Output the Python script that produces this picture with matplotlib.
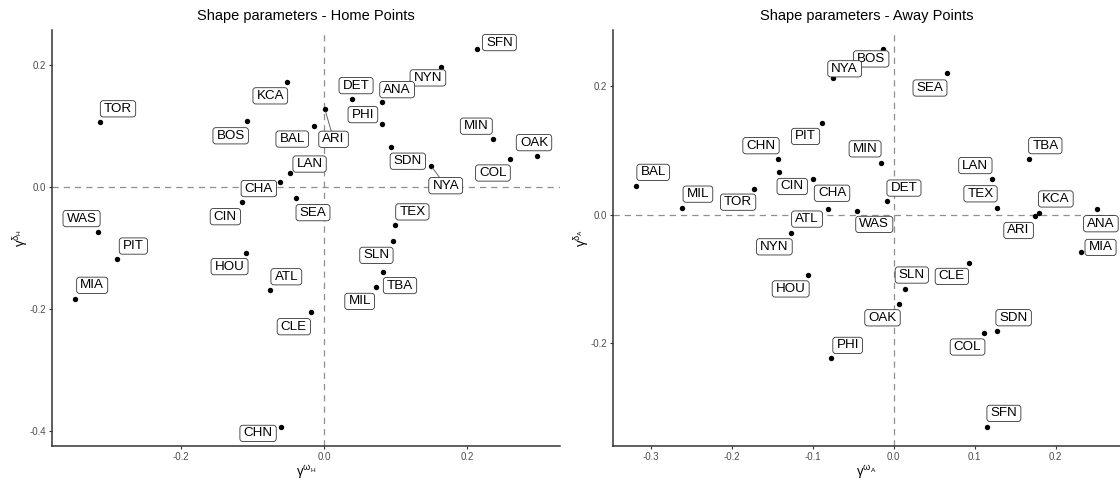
import matplotlib
matplotlib.use("Agg")
import matplotlib.pyplot as plt
from matplotlib.ticker import FormatStrFormatter
from matplotlib.patches import BoxStyle

plt.rcParams['font.family'] = ['Liberation Sans', 'DejaVu Sans']
plt.rcParams['axes.unicode_minus'] = False
plt.rcParams['mathtext.fontset'] = 'custom'
plt.rcParams['mathtext.rm'] = 'Liberation Sans'
plt.rcParams['mathtext.it'] = 'Liberation Sans'
plt.rcParams['mathtext.default'] = 'regular'

# ---------------- data ----------------
home_teams = ["SFN", "NYN", "KCA", "DET", "ANA", "TOR", "BOS", "PHI", "BAL", "ARI",
              "MIN", "SDN", "OAK", "COL", "NYA", "LAN", "CHA", "CIN", "SEA", "TEX",
              "WAS", "SLN", "PIT", "HOU", "TBA", "MIL", "ATL", "MIA", "CLE", "CHN"]
home_omega = [0.214, 0.164, -0.052, 0.040, 0.082, -0.313, -0.108, 0.082, -0.0135, 0.0015,
              0.237, 0.094, 0.298, 0.260, 0.150, -0.047, -0.061, -0.114, -0.039, 0.100,
              -0.316, 0.097, -0.290, -0.109, 0.083, 0.073, -0.076, -0.348, -0.0185, -0.060]
home_delta = [0.227, 0.198, 0.173, 0.145, 0.140, 0.107, 0.108, 0.104, 0.101, 0.128,
              0.079, 0.067, 0.052, 0.047, 0.035, 0.023, 0.009, -0.024, -0.018, -0.062,
              -0.073, -0.0885, -0.118, -0.107, -0.138, -0.164, -0.169, -0.183, -0.205, -0.393]

away_teams = ["BOS", "NYA", "SEA", "PIT", "CHN", "MIN", "TBA", "LAN", "BAL", "CIN",
              "CHA", "DET", "MIL", "TOR", "TEX", "KCA", "ATL", "WAS", "ARI", "ANA",
              "NYN", "MIA", "CLE", "HOU", "SLN", "OAK", "SDN", "COL", "PHI", "SFN"]
away_omega = [-0.0128, -0.075, 0.066, -0.088, -0.143, -0.015, 0.167, 0.122, -0.318, -0.142,
              -0.099, -0.008, -0.261, -0.173, 0.128, 0.180, -0.081, -0.045, 0.175, 0.251,
              -0.127, 0.2316, 0.093, -0.106, 0.0137, 0.007, 0.127, 0.112, -0.077, 0.115]
away_delta = [0.258, 0.213, 0.220, 0.143, 0.087, 0.081, 0.086, 0.055, 0.045, 0.066,
              0.055, 0.021, 0.010, 0.040, 0.011, 0.003, 0.009, 0.006, -0.003, 0.008,
              -0.028, -0.059, -0.075, -0.094, -0.116, -0.139, -0.182, -0.184, -0.224, -0.331]

# label placement (offsets in pixels from each point, image y downward)
home_label_offsets = [(22.5, -6.3), (-13.2, 11.3), (-16.4, 14), (3.6, -13.3), (14.6, -12.3),
                      (17.9, -13.3), (-16, 14.3), (-19.6, -9.3), (-22, 13.3), (8.6, 30),
                      (-17, -13), (16.8, 14.7), (-2.9, -13), (-16.8, 14.3), (14.6, 19.7),
                      (19.3, -9.3), (-21.4, 6.7), (-17, 14.7), (17, 14.3), (17, -13.3),
                      (-16.4, -13.3), (-16.8, 14), (16.8, -13.3), (-16.4, 14), (16.8, 14),
                      (-16.4, 14), (16.8, -13.7), (17.1, -13.7), (-16.8, 14.3), (-22.9, 6.3)]
home_segments = ["ARI", "NYA"]
away_label_offsets = [(-12.1, 10), (11.8, -9), (-17.1, 14.7), (-16.8, 13.7), (-16.8, -13),
                      (-16.4, -13.7), (16.4, -13.7), (-17.1, -13.7), (17.1, -13.3), (13.6, 14.3),
                      (18.6, 14), (16.8, -13), (15.7, -14), (-15.4, 13.3), (-16.8, -13.7),
                      (16.4, -13.7), (-21, 10.3), (17.1, 13.7), (-16.8, 14), (3.9, 14.3),
                      (-16.4, 14.3), (19.3, -5), (-17.1, 13.7), (-17.1, 14), (7.1, -14),
                      (-16.8, 14), (17.1, -13.7), (-16.8, 14.3), (16.4, -13), (17.1, -13.7)]
away_segments = []

home_xticks = [-0.2, 0.0, 0.2]
home_yticks = [-0.4, -0.2, 0.0, 0.2]
away_xticks = [-0.3, -0.2, -0.1, 0.0, 0.1, 0.2]
away_yticks = [-0.2, 0.0, 0.2]

W, H = 1120, 480
fig = plt.figure(figsize=(W / 100, H / 100), dpi=100)

_round = BoxStyle.Round(pad=0.0, rounding_size=0.22)


def label_box(x0, y0, width, height, mutation_size):
    px = 0.27 * mutation_size
    py = 0.16 * mutation_size
    return _round(x0 - px, y0 - py, width + 2 * px, height + 2 * py, mutation_size)


def px_axes(left, top, right, bottom):
    return fig.add_axes([left / W, 1 - bottom / H, (right - left) / W, (bottom - top) / H])


def expand(vals, frac=0.05):
    lo, hi = min(vals), max(vals)
    r = hi - lo
    return lo - frac * r, hi + frac * r


def panel(ax, title, teams, xs, ys, offsets, segs, xticks, yticks, xlab, ylab):
    ax.set_xlim(*expand(xs))
    ax.set_ylim(*expand(ys))
    ax.axhline(0, color='#8f8f8f', lw=0.9, ls=(0, (5, 4)), zorder=1)
    ax.axvline(0, color='#8f8f8f', lw=0.9, ls=(0, (5, 4)), zorder=1)
    ax.scatter(xs, ys, s=15, color='black', zorder=3, linewidths=0)
    for t, x, y, (dx, dy) in zip(teams, xs, ys, offsets):
        arrow = None
        if t in segs:
            arrow = dict(arrowstyle='-', color='#666666', lw=0.7, shrinkA=0, shrinkB=2)
        ax.annotate(t, (x, y), xytext=(dx, -dy), textcoords='offset pixels',
                    ha='center', va='center', fontsize=9.6, color='black',
                    bbox=dict(boxstyle=label_box, fc='white', ec='#333333', lw=0.6),
                    arrowprops=arrow, zorder=4)
    ax.set_xticks(xticks)
    ax.set_yticks(yticks)
    ax.xaxis.set_major_formatter(FormatStrFormatter('%.1f'))
    ax.yaxis.set_major_formatter(FormatStrFormatter('%.1f'))
    for s in ['top', 'right']:
        ax.spines[s].set_visible(False)
    for s in ['left', 'bottom']:
        ax.spines[s].set_color('#333333')
        ax.spines[s].set_linewidth(1.1)
    ax.tick_params(axis='both', colors='#333333', labelcolor='#4d4d4d',
                   labelsize=7, length=2.5, width=0.8, pad=2)
    ax.set_title(title, fontsize=10.5, pad=7)
    ax.set_xlabel(xlab, fontsize=9.5, labelpad=1)
    ax.set_ylabel(ylab, fontsize=9.5, labelpad=-1)


ax1 = px_axes(52, 30, 560, 446)
panel(ax1, "Shape parameters - Home Points", home_teams, home_omega, home_delta,
      home_label_offsets, home_segments, home_xticks, home_yticks,
      r'$\gamma^{\omega_H}$', r'$\gamma^{\delta_H}$')

ax2 = px_axes(613, 30, 1120, 446)
panel(ax2, "Shape parameters - Away Points", away_teams, away_omega, away_delta,
      away_label_offsets, away_segments, away_xticks, away_yticks,
      r'$\gamma^{\omega_A}$', r'$\gamma^{\delta_A}$')

fig.savefig("out.png", dpi=100)
